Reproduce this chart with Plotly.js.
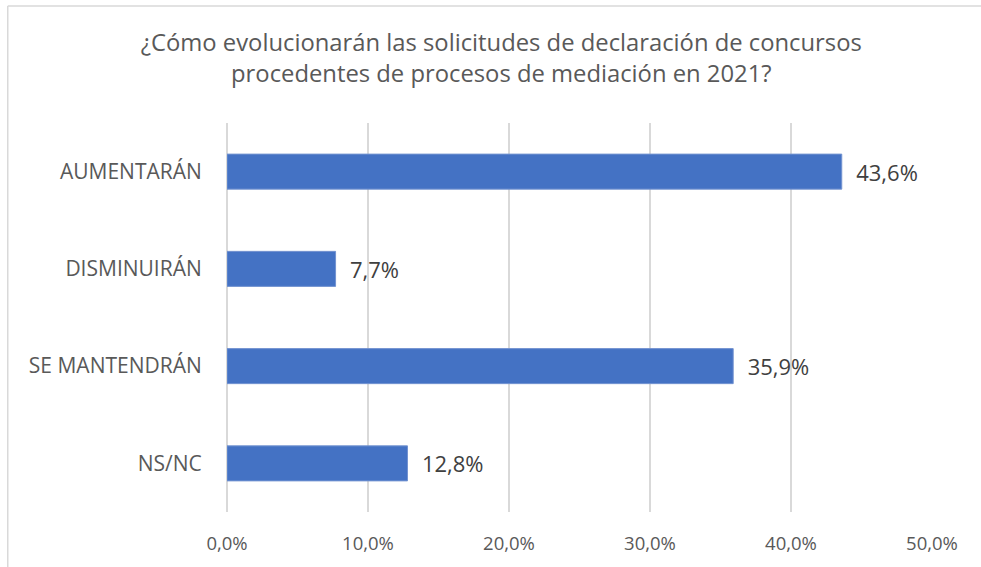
<!DOCTYPE html>
<html>
<head>
<meta charset="utf-8">
<script src="https://cdn.plot.ly/plotly-3.0.1.min.js"></script>
<style>
  html, body { margin: 0; padding: 0; background: #ffffff; }
  #chart { width: 981px; height: 567px; }
</style>
</head>
<body>
<div id="chart"></div>
<script>

/* ==========================================
   DATA
========================================== */

const categories = ["AUMENTARÁN", "DISMINUIRÁN", "SE MANTENDRÁN", "NS/NC"];

const values = [43.6, 7.7, 35.9, 12.8];

const tickValues = [0, 10, 20, 30, 40, 50];

const chartTitle = "¿Cómo evolucionarán las solicitudes de declaración de concursos<br>procedentes de procesos de mediación en 2021?";


/* ==========================================
   DRAW
========================================== */

function drawChart(){

    const labels = values.map(v => v.toFixed(1).replace(".", ",") + "%");

    const tickText = tickValues.map(v => v.toFixed(1).replace(".", ",") + "%");

    const fontFamily = "'Open Sans', sans-serif";

    Plotly.newPlot(

        "chart",

        [
            {
                type: "bar",
                orientation: "h",
                x: values,
                y: categories,
                text: labels,
                texttemplate: "  %{text}",
                textposition: "outside",
                cliponaxis: false,
                outsidetextfont: { family: fontFamily, size: 22, color: "#404040" },
                marker: {
                    color: "#4472C4",
                    line: { color: "#7393d0", width: 1 }
                },
                hoverinfo: "skip"
            }
        ],

        {
            width: 981,
            height: 567,
            margin: { l: 227, r: 49, t: 123, b: 55 },
            paper_bgcolor: "#ffffff",
            plot_bgcolor: "#ffffff",
            bargap: 0.64,
            showlegend: false,
            font: { family: fontFamily, color: "#595959" },
            title: {
                text: chartTitle,
                font: { family: fontFamily, size: 23.8, color: "#595959" },
                x: 0.511,
                xanchor: "center",
                y: 0.91,
                yanchor: "top"
            },
            xaxis: {
                range: [0, 50],
                tickvals: tickValues,
                ticktext: tickText,
                showgrid: true,
                gridcolor: "#d9d9d9",
                gridwidth: 1.5,
                zeroline: true,
                zerolinecolor: "#d9d9d9",
                zerolinewidth: 1.5,
                showline: false,
                ticks: "outside",
                ticklen: 15,
                tickcolor: "rgba(0,0,0,0)",
                tickfont: { family: fontFamily, size: 18.5, color: "#595959" },
                fixedrange: true
            },
            yaxis: {
                autorange: "reversed",
                showgrid: false,
                zeroline: false,
                showline: false,
                ticks: "outside",
                ticklen: 20,
                tickcolor: "rgba(0,0,0,0)",
                tickfont: { family: fontFamily, size: 21, color: "#595959" },
                fixedrange: true
            },
            shapes: [
                {
                    type: "line", xref: "paper", yref: "paper",
                    x0: -0.311, x1: 1.1, y0: 1.3008, y1: 1.3008,
                    line: { color: "#d9d9d9", width: 1.5 }
                },
                {
                    type: "line", xref: "paper", yref: "paper",
                    x0: -0.311, x1: -0.311, y0: 1.3008, y1: -0.2,
                    line: { color: "#d9d9d9", width: 1.5 }
                }
            ]
        },

        {
            displayModeBar: false,
            staticPlot: true
        }

    );

}

drawChart();

</script>
</body>
</html>
